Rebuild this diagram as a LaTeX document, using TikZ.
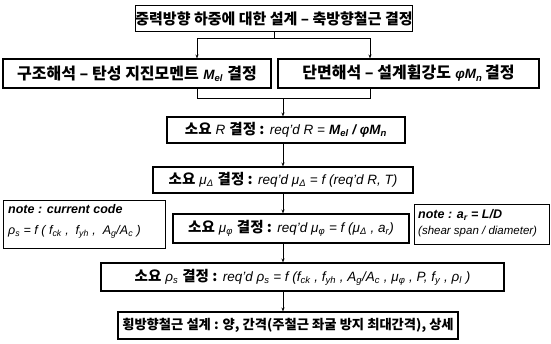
\documentclass[tikz,border=0pt]{standalone}
\usepackage{fontspec}
\setmainfont{Liberation Sans}
\newfontfamily\kr{Noto Sans CJK KR}
\usetikzlibrary{arrows.meta}
\newcommand\K[1]{{\kr\bfseries #1}}
\newcommand\I[1]{{\fontsize{13.5}{15}\selectfont\itshape #1}}
\newcommand\sbs[1]{\textsubscript{#1}}
\begin{document}
\begin{tikzpicture}[x=1pt,y=-1pt,
  box/.style={draw, line width=1.1pt, inner sep=0pt, align=center, font=\fontsize{14.5}{16}\selectfont},
  notebox/.style={draw, line width=1pt, inner sep=0pt},
  con/.style={line width=0.9pt},
  arr/.style={line width=0.9pt, -{Stealth[length=4pt,width=3pt]}}]
\useasboundingbox (0,0) rectangle (551,343);
\node[box, minimum width=252pt, minimum height=26pt, font=\fontsize{15}{16}\selectfont] (b1) at (274,18.5) {\K{중력방향 하중에 대한 설계 – 축방향철근 결정}};
\node[box, minimum width=268pt, minimum height=29pt, font=\fontsize{16}{18}\selectfont] (b2) at (137,73.5) {\K{구조해석 – 탄성 지진모멘트} \textbf{\I{M\sbs{el}}} \K{결정}};
\node[box, minimum width=261pt, minimum height=29pt, font=\fontsize{16}{18}\selectfont] (b3) at (408.5,73.5) {\K{단면해석 – 설계휨강도} \textbf{\I{φM\sbs{n}}}\,\K{결정}};
\node[box, minimum width=238pt, minimum height=26pt] (b4) at (286,130) {\K{소요} \I{R} \K{결정 :} \I{req'd R =} \textbf{\I{M\sbs{el} / φM\sbs{n}}}};
\node[box, minimum width=260pt, minimum height=26pt] (b5) at (283,180) {\K{소요} \I{μ\sbs{Δ}} \K{결정 :} \I{req'd μ\sbs{Δ} = f (req'd R, T)}};
\node[box, minimum width=236pt, minimum height=29pt] (b6) at (291,228.5) {\K{소요} \I{μ\sbs{φ}} \K{결정 :} \I{req'd μ\sbs{φ} = f (μ\sbs{Δ} , a\sbs{r})}};
\node[box, minimum width=403pt, minimum height=28pt] (b7) at (302.5,277) {\K{소요} \I{ρ\sbs{s}} \K{결정 :} \I{req'd ρ\sbs{s} = f (f\sbs{ck} , f\sbs{yh} , A\sbs{g}/A\sbs{c} , μ\sbs{φ} , P, f\sbs{y} , ρ\sbs{l} )}};
\node[box, minimum width=340pt, minimum height=27pt, font=\fontsize{13.3}{16}\selectfont] (b8) at (288,325.5) {\K{횡방향철근 설계 : 양, 간격(주철근 좌굴 방지 최대간격), 상세}};
\node[notebox, minimum width=162pt, minimum height=48pt] (nL) at (84,224) {};
\node[anchor=north west, align=left, inner sep=0pt, font=\fontsize{12.5}{21}\selectfont] (tL) at (8,204) {\textbf{\itshape note : current code}\\ \itshape ρ\sbs{s} = f ( f\sbs{ck} ,\; f\sbs{yh} ,\; A\sbs{g}/A\sbs{c} )};
\node[notebox, minimum width=135pt, minimum height=40pt] (nR) at (481.5,224) {};
\node[anchor=north west, align=left, inner sep=0pt, font=\fontsize{12.5}{16}\selectfont] (tR) at (418,209) {\textbf{\itshape note : a\sbs{r} = L/D}\\ {\fontsize{11.5}{13}\selectfont\itshape (shear span / diameter)}};
\coordinate (sL) at (197,38);
\coordinate (sR) at (370,38);
\coordinate (mL) at (197,98);
\coordinate (mR) at (370,98);
\coordinate (ax) at (283,0);
\draw[con] (b1.south) -- (b1.south |- sL);
\draw[con] (sL) -- (sR);
\draw[arr] (sL) -- (sL |- b2.north);
\draw[arr] (sR) -- (sR |- b3.north);
\draw[con] (mL |- b2.south) -- (mL) -- (mR) -- (mR |- b3.south);
\draw[arr] (mL -| ax) -- (b4.north -| ax);
\draw[arr] (b4.south -| ax) -- (b5.north -| ax);
\draw[arr] (b5.south -| ax) -- (b6.north -| ax);
\draw[arr] (b6.south -| ax) -- (b7.north -| ax);
\draw[arr] (b7.south -| ax) -- (b8.north -| ax);
\end{tikzpicture}
\end{document}
